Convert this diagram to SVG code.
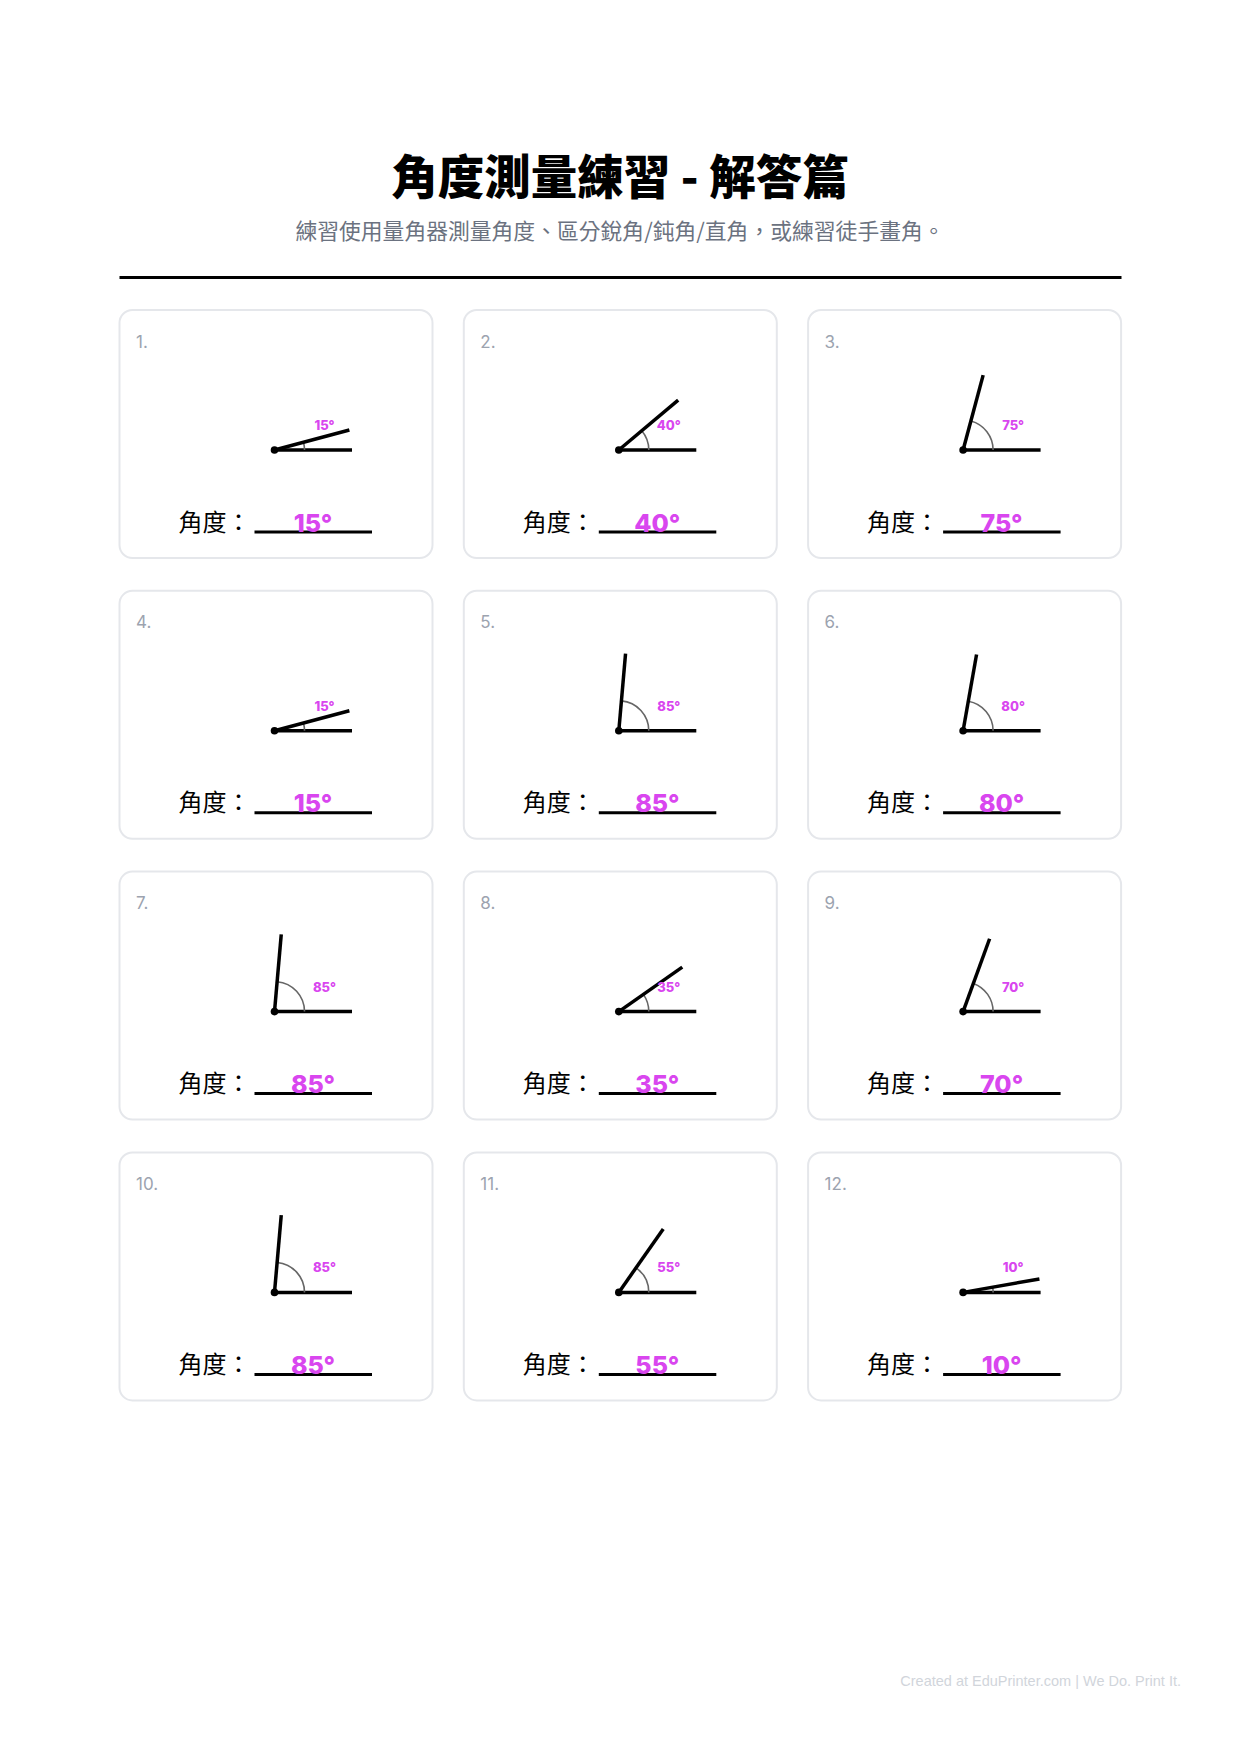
<svg xmlns="http://www.w3.org/2000/svg" width="1240" height="1754" viewBox="0 0 1240 1754">
<style>
.title{font-family:"Noto Sans CJK TC","Noto Sans CJK SC",sans-serif;font-size:46.5px;font-weight:900;fill:#000;text-anchor:middle}
.sub{font-family:"Noto Sans CJK TC","Noto Sans CJK SC",sans-serif;font-size:21.8px;fill:#6b7280;text-anchor:middle}
.card{fill:#fff;stroke:#e5e7eb;stroke-width:2}
.num{font-family:"Inter","Noto Sans",sans-serif;font-size:17px;fill:#9ca3af}
.ray{stroke:#000;stroke-width:3.5;fill:none}
.arc{stroke:#666;stroke-width:1.6;fill:none}
.lbl{font-family:"Inter","Lato",sans-serif;font-size:13px;font-weight:800;fill:#d946ef;text-anchor:middle}
.q{font-family:"Noto Sans CJK TC","Noto Sans CJK SC",sans-serif;font-size:24px;fill:#000}
.ul{stroke:#000;stroke-width:3}
.ans{font-family:"Inter","Lato",sans-serif;font-size:25px;font-weight:800;fill:#d946ef;text-anchor:middle}
.foot{font-family:"Liberation Sans",Arial,sans-serif;font-size:14.5px;fill:#d1d5db;text-anchor:end}
</style>
<defs>
<g id="base">
<rect class="card" x="0" y="0" width="313" height="248" rx="13"/>
<line class="ray" x1="155" y1="140" x2="232.5" y2="140"/>
<text class="q" x="59" y="220.5">角度：</text>
<line class="ul" x1="135" y1="222" x2="252.5" y2="222"/>
</g>
</defs>
<rect width="1240" height="1754" fill="#fff"/>
<g id="header">
<text class="title" x="620" y="194">角度測量練習 - 解答篇</text>
<text class="sub" x="620" y="239">練習使用量角器測量角度、區分銳角/鈍角/直角，或練習徒手畫角。</text>
<line x1="119.5" y1="277.5" x2="1121.5" y2="277.5" stroke="#000" stroke-width="3"/>
</g>

<g id="card1" transform="translate(119.5,310)">
<use href="#base"/><text class="num" x="16.5" y="37.5">1.</text>
<path class="arc" d="M185 140 A30 30 0 0 0 183.98 132.24"/>
<line class="ray" x1="155" y1="140" x2="229.86" y2="119.94"/><circle cx="155" cy="140" r="3.8"/>
<text class="lbl" x="205" y="120">15°</text><text class="ans" x="193.5" y="221.5">15°</text>
</g>
<g id="card2" transform="translate(463.8,310)">
<use href="#base"/><text class="num" x="16.5" y="37.5">2.</text>
<path class="arc" d="M185 140 A30 30 0 0 0 177.98 120.72"/>
<line class="ray" x1="155" y1="140" x2="214.37" y2="90.18"/><circle cx="155" cy="140" r="3.8"/>
<text class="lbl" x="205" y="120">40°</text><text class="ans" x="193.5" y="221.5">40°</text>
</g>
<g id="card3" transform="translate(808.1,310)">
<use href="#base"/><text class="num" x="16.5" y="37.5">3.</text>
<path class="arc" d="M185 140 A30 30 0 0 0 162.76 111.02"/>
<line class="ray" x1="155" y1="140" x2="175.06" y2="65.14"/><circle cx="155" cy="140" r="3.8"/>
<text class="lbl" x="205" y="120">75°</text><text class="ans" x="193.5" y="221.5">75°</text>
</g>

<g id="card4" transform="translate(119.5,590.8)">
<use href="#base"/><text class="num" x="16.5" y="37.5">4.</text>
<path class="arc" d="M185 140 A30 30 0 0 0 183.98 132.24"/>
<line class="ray" x1="155" y1="140" x2="229.86" y2="119.94"/><circle cx="155" cy="140" r="3.8"/>
<text class="lbl" x="205" y="120">15°</text><text class="ans" x="193.5" y="221.5">15°</text>
</g>
<g id="card5" transform="translate(463.8,590.8)">
<use href="#base"/><text class="num" x="16.5" y="37.5">5.</text>
<path class="arc" d="M185 140 A30 30 0 0 0 157.61 110.11"/>
<line class="ray" x1="155" y1="140" x2="161.75" y2="62.8"/><circle cx="155" cy="140" r="3.8"/>
<text class="lbl" x="205" y="120">85°</text><text class="ans" x="193.5" y="221.5">85°</text>
</g>
<g id="card6" transform="translate(808.1,590.8)">
<use href="#base"/><text class="num" x="16.5" y="37.5">6.</text>
<path class="arc" d="M185 140 A30 30 0 0 0 160.21 110.46"/>
<line class="ray" x1="155" y1="140" x2="168.46" y2="63.68"/><circle cx="155" cy="140" r="3.8"/>
<text class="lbl" x="205" y="120">80°</text><text class="ans" x="193.5" y="221.5">80°</text>
</g>

<g id="card7" transform="translate(119.5,871.6)">
<use href="#base"/><text class="num" x="16.5" y="37.5">7.</text>
<path class="arc" d="M185 140 A30 30 0 0 0 157.61 110.11"/>
<line class="ray" x1="155" y1="140" x2="161.75" y2="62.8"/><circle cx="155" cy="140" r="3.8"/>
<text class="lbl" x="205" y="120">85°</text><text class="ans" x="193.5" y="221.5">85°</text>
</g>
<g id="card8" transform="translate(463.8,871.6)">
<use href="#base"/><text class="num" x="16.5" y="37.5">8.</text>
<path class="arc" d="M185 140 A30 30 0 0 0 179.57 122.79"/>
<line class="ray" x1="155" y1="140" x2="218.48" y2="95.55"/><circle cx="155" cy="140" r="3.8"/>
<text class="lbl" x="205" y="120">35°</text><text class="ans" x="193.5" y="221.5">35°</text>
</g>
<g id="card9" transform="translate(808.1,871.6)">
<use href="#base"/><text class="num" x="16.5" y="37.5">9.</text>
<path class="arc" d="M185 140 A30 30 0 0 0 165.26 111.81"/>
<line class="ray" x1="155" y1="140" x2="181.51" y2="67.17"/><circle cx="155" cy="140" r="3.8"/>
<text class="lbl" x="205" y="120">70°</text><text class="ans" x="193.5" y="221.5">70°</text>
</g>

<g id="card10" transform="translate(119.5,1152.4)">
<use href="#base"/><text class="num" x="16.5" y="37.5">10.</text>
<path class="arc" d="M185 140 A30 30 0 0 0 157.61 110.11"/>
<line class="ray" x1="155" y1="140" x2="161.75" y2="62.8"/><circle cx="155" cy="140" r="3.8"/>
<text class="lbl" x="205" y="120">85°</text><text class="ans" x="193.5" y="221.5">85°</text>
</g>
<g id="card11" transform="translate(463.8,1152.4)">
<use href="#base"/><text class="num" x="16.5" y="37.5">11.</text>
<path class="arc" d="M185 140 A30 30 0 0 0 172.21 115.43"/>
<line class="ray" x1="155" y1="140" x2="199.45" y2="76.51"/><circle cx="155" cy="140" r="3.8"/>
<text class="lbl" x="205" y="120">55°</text><text class="ans" x="193.5" y="221.5">55°</text>
</g>
<g id="card12" transform="translate(808.1,1152.4)">
<use href="#base"/><text class="num" x="16.5" y="37.5">12.</text>
<path class="arc" d="M185 140 A30 30 0 0 0 184.54 134.79"/>
<line class="ray" x1="155" y1="140" x2="231.32" y2="126.54"/><circle cx="155" cy="140" r="3.8"/>
<text class="lbl" x="205" y="120">10°</text><text class="ans" x="193.5" y="221.5">10°</text>
</g>

<text class="foot" x="1181" y="1686">Created at EduPrinter.com | We Do. Print It.</text>
</svg>
